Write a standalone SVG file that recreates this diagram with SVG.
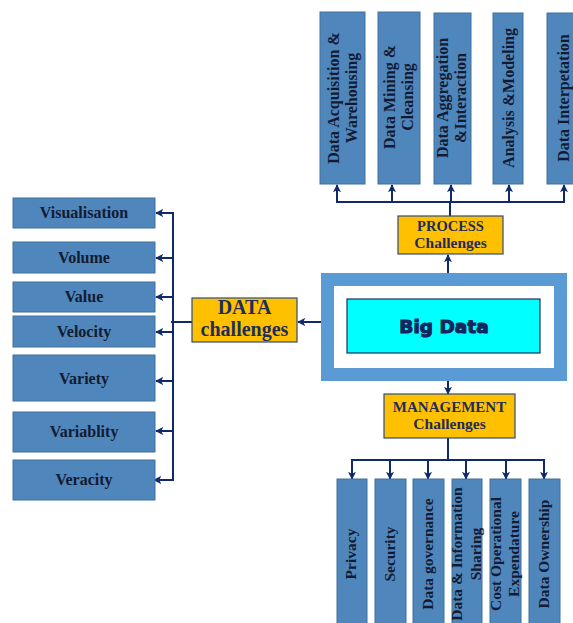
<svg xmlns="http://www.w3.org/2000/svg" width="573" height="623" viewBox="0 0 573 623">
  <style>
    .box { fill: #4F86BB; stroke: #41719C; stroke-width: 1; }
    .ch { fill: #FFC000; stroke: #2F4B7C; stroke-width: 1.2; }
    .lbl { font-family: "Liberation Serif", "DejaVu Serif", serif; font-weight: bold; fill: #131b33; text-anchor: middle; }
    .s15 { font-size: 15.5px; }
    .s16 { font-size: 16px; }
    .chl { font-family: "Liberation Serif", "DejaVu Serif", serif; font-weight: bold; fill: #1F2D5C; text-anchor: middle; }
    .con { fill: none; stroke: #0F2A6B; stroke-width: 2; }
    .arr { fill: none; stroke: #0F2A6B; stroke-width: 2; marker-end: url(#ah); }
  </style>
  <defs>
    <marker id="ah" viewBox="0 0 10 10" refX="9" refY="5" markerWidth="8" markerHeight="8" markerUnits="userSpaceOnUse" orient="auto">
      <path d="M0,0 L10,5 L0,10 L2.5,5 Z" fill="#0F2A6B"/>
    </marker>
  </defs>

  <!-- connectors -->
  <g id="connectors">
    <!-- process branch -->
    <line class="arr" x1="448" y1="273" x2="448" y2="255"/>
    <line class="con" x1="450" y1="216" x2="450" y2="202"/>
    <line class="con" x1="336" y1="202" x2="565" y2="202"/>
    <line class="arr" x1="337" y1="202" x2="337" y2="185"/>
    <line class="arr" x1="392" y1="202" x2="392" y2="185"/>
    <line class="arr" x1="451" y1="202" x2="451" y2="185"/>
    <line class="arr" x1="509" y1="202" x2="509" y2="185"/>
    <line class="arr" x1="564" y1="202" x2="564" y2="185"/>
    <!-- management branch -->
    <line class="arr" x1="448" y1="381" x2="448" y2="394"/>
    <line class="con" x1="448" y1="438" x2="448" y2="460"/>
    <line class="con" x1="351" y1="460" x2="545" y2="460"/>
    <line class="arr" x1="352" y1="460" x2="352" y2="479"/>
    <line class="arr" x1="390" y1="460" x2="390" y2="479"/>
    <line class="arr" x1="428" y1="460" x2="428" y2="479"/>
    <line class="arr" x1="466" y1="460" x2="466" y2="479"/>
    <line class="arr" x1="506" y1="460" x2="506" y2="479"/>
    <line class="arr" x1="544" y1="460" x2="544" y2="479"/>
    <!-- data branch -->
    <line class="arr" x1="321" y1="322" x2="298" y2="322"/>
    <line class="con" x1="192" y1="322" x2="171" y2="322"/>
    <line class="con" x1="173" y1="212" x2="173" y2="481"/>
    <line class="arr" x1="173" y1="213" x2="156" y2="213"/>
    <line class="arr" x1="173" y1="258" x2="156" y2="258"/>
    <line class="arr" x1="173" y1="297" x2="156" y2="297"/>
    <line class="arr" x1="173" y1="332" x2="156" y2="332"/>
    <line class="arr" x1="173" y1="381" x2="156" y2="381"/>
    <line class="arr" x1="173" y1="431" x2="156" y2="431"/>
    <line class="arr" x1="173" y1="480" x2="154" y2="480"/>
  </g>

  <!-- central node -->
  <g id="big-data">
    <rect x="327.5" y="279.5" width="233" height="95" fill="#ffffff" stroke="#5B9BD5" stroke-width="13"/>
    <rect x="347" y="299" width="193" height="54" fill="#00FFFF" stroke="#1F2D5C" stroke-width="1.2"/>
    <text x="444" y="333" font-family="DejaVu Sans, sans-serif" font-weight="bold" font-size="18.5" fill="#13265E" stroke="#13265E" stroke-width="1.1" text-anchor="middle">Big Data</text>
  </g>

  <!-- challenge categories -->
  <g id="process-challenges">
    <rect class="ch" x="398" y="216" width="105" height="38"/>
    <text class="chl" x="450.5" y="231" font-size="14.5">PROCESS</text>
    <text class="chl" x="450.5" y="248" font-size="15.5">Challenges</text>
  </g>
  <g id="management-challenges">
    <rect class="ch" x="384" y="394" width="131" height="44"/>
    <text class="chl" x="449.5" y="412" font-size="15">MANAGEMENT</text>
    <text class="chl" x="449.5" y="429" font-size="15.5">Challenges</text>
  </g>
  <g id="data-challenges">
    <rect class="ch" x="192" y="298" width="105" height="44"/>
    <text class="chl" x="244.5" y="314" font-size="20">DATA</text>
    <text class="chl" x="244.5" y="336" font-size="20">challenges</text>
  </g>

  <!-- process stages -->
  <g id="acquisition">
    <rect class="box" x="320" y="12" width="45" height="172"/>
    <text class="lbl s16" transform="translate(342.5,98) rotate(-90)"><tspan x="0" y="-4">Data Acquisition &amp;</tspan><tspan x="0" y="14">Warehousing</tspan></text>
  </g>
  <g id="mining">
    <rect class="box" x="378" y="12" width="42" height="172"/>
    <text class="lbl s16" transform="translate(399,97) rotate(-90)"><tspan x="0" y="-4">Data Mining &amp;</tspan><tspan x="0" y="14">Cleansing</tspan></text>
  </g>
  <g id="aggregation">
    <rect class="box" x="434" y="13" width="37" height="171"/>
    <text class="lbl s16" transform="translate(452.5,98) rotate(-90)"><tspan x="0" y="-5">Data Aggregation</tspan><tspan x="0" y="13">&amp;Interaction</tspan></text>
  </g>
  <g id="modeling">
    <rect class="box" x="493" y="13" width="30" height="171"/>
    <text class="lbl s16" transform="translate(508,98) rotate(-90)" x="0" y="6">Analysis &amp;Modeling</text>
  </g>
  <g id="interpretation">
    <rect class="box" x="547" y="13" width="30" height="171"/>
    <text class="lbl s16" transform="translate(562,98) rotate(-90)" x="0" y="7">Data Interpetation</text>
  </g>

  <!-- management areas -->
  <g id="privacy">
    <rect class="box" x="337" y="479" width="30" height="150"/>
    <text class="lbl s15" transform="translate(352,554) rotate(-90)" x="0" y="4">Privacy</text>
  </g>
  <g id="security">
    <rect class="box" x="375" y="479" width="31" height="150"/>
    <text class="lbl s15" transform="translate(390.5,554) rotate(-90)" x="0" y="4">Security</text>
  </g>
  <g id="governance">
    <rect class="box" x="413" y="479" width="31" height="150"/>
    <text class="lbl s15" transform="translate(428.5,554) rotate(-90)" x="0" y="4">Data governance</text>
  </g>
  <g id="sharing">
    <rect class="box" x="452" y="479" width="30" height="150"/>
    <text class="lbl s15" transform="translate(467,554) rotate(-90)"><tspan x="0" y="-5">Data &amp; Information</tspan><tspan x="0" y="14">Sharing</tspan></text>
  </g>
  <g id="expenditure">
    <rect class="box" x="490" y="479" width="31" height="150"/>
    <text class="lbl s15" transform="translate(505.5,554) rotate(-90)"><tspan x="0" y="-4.5">Cost Operational</tspan><tspan x="0" y="13.5">Expendature</tspan></text>
  </g>
  <g id="ownership">
    <rect class="box" x="529" y="479" width="31" height="150"/>
    <text class="lbl s15" transform="translate(544.5,554) rotate(-90)" x="0" y="4.5">Data Ownership</text>
  </g>

  <!-- data characteristics -->
  <g id="visualisation">
    <rect class="box" x="13" y="198" width="142" height="30"/>
    <text class="lbl s16" x="84" y="218">Visualisation</text>
  </g>
  <g id="volume">
    <rect class="box" x="13" y="242" width="142" height="31"/>
    <text class="lbl s16" x="84" y="263">Volume</text>
  </g>
  <g id="value">
    <rect class="box" x="13" y="282" width="142" height="30"/>
    <text class="lbl s16" x="84" y="302">Value</text>
  </g>
  <g id="velocity">
    <rect class="box" x="13" y="316" width="142" height="31"/>
    <text class="lbl s16" x="84" y="337">Velocity</text>
  </g>
  <g id="variety">
    <rect class="box" x="13" y="355" width="142" height="46"/>
    <text class="lbl s16" x="84" y="384">Variety</text>
  </g>
  <g id="variability">
    <rect class="box" x="13" y="412" width="142" height="40"/>
    <text class="lbl s16" x="84" y="437">Variablity</text>
  </g>
  <g id="veracity">
    <rect class="box" x="13" y="460" width="142" height="40"/>
    <text class="lbl s16" x="84" y="485">Veracity</text>
  </g>
</svg>
